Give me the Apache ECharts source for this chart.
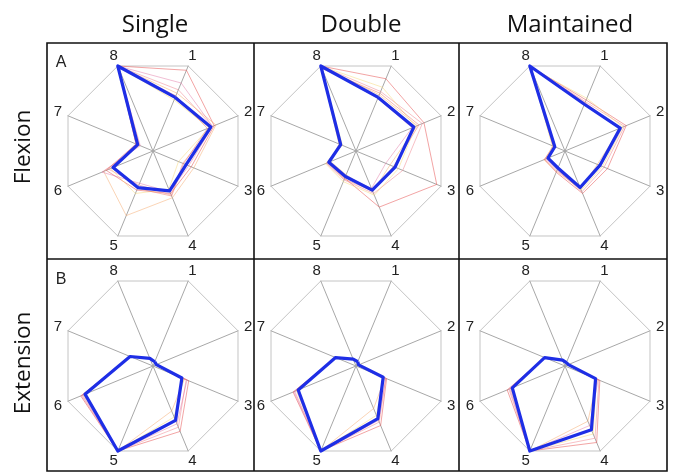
<!DOCTYPE html>
<html>
<head>
<meta charset="utf-8">
<script src="https://cdn.jsdelivr.net/npm/echarts@6/dist/echarts.min.js"></script>
<style>
  html, body { margin: 0; padding: 0; background: #fff; }
  #chart { width: 675px; height: 474px; }
</style>
</head>
<body>
<div id="chart"></div>
<script>
// Direction labels, listed clockwise from the upper right
const axisLabels = ['1', '2', '3', '4', '5', '6', '7', '8'];
const columnTitles = ['Single', 'Double', 'Maintained'];
const rowTitles = ['Flexion', 'Extension'];
const panelLetters = ['A', 'B'];

// Normalised tuning values per direction (order 1..8): mean curve and individual trials
const flexSingleMean = [0.63, 0.68, 0.39, 0.47, 0.43, 0.47, 0.18, 1.0];
const flexSingleTrials = [
  [0.95, 0.72, 0.45, 0.50, 0.46, 0.55, 0.20, 1.0],
  [0.72, 0.70, 0.35, 0.52, 0.40, 0.52, 0.17, 1.0],
  [0.68, 0.74, 0.48, 0.55, 0.76, 0.58, 0.16, 1.0],
  [0.60, 0.66, 0.30, 0.45, 0.50, 0.50, 0.19, 1.0],
  [0.80, 0.70, 0.42, 0.48, 0.38, 0.60, 0.15, 1.0],
  [0.65, 0.64, 0.36, 0.53, 0.44, 0.48, 0.20, 0.98]
];
const flexDoubleMean = [0.63, 0.68, 0.46, 0.46, 0.30, 0.32, 0.18, 1.0];
const flexDoubleTrials = [
  [0.85, 0.80, 0.95, 0.66, 0.32, 0.33, 0.18, 1.0],
  [0.70, 0.78, 0.55, 0.50, 0.34, 0.35, 0.17, 1.0],
  [0.66, 0.72, 0.40, 0.48, 0.28, 0.30, 0.20, 1.0],
  [0.75, 0.70, 0.50, 0.52, 0.36, 0.36, 0.16, 1.0],
  [0.62, 0.66, 0.35, 0.44, 0.30, 0.31, 0.19, 1.0],
  [0.68, 0.74, 0.44, 0.47, 0.33, 0.34, 0.18, 0.97]
];
const flexMaintMean = [0.55, 0.65, 0.41, 0.43, 0.20, 0.20, 0.12, 1.0];
const flexMaintTrials = [
  [0.60, 0.72, 0.50, 0.50, 0.25, 0.24, 0.14, 1.0],
  [0.58, 0.70, 0.46, 0.48, 0.22, 0.22, 0.13, 1.0],
  [0.56, 0.66, 0.38, 0.45, 0.24, 0.25, 0.12, 1.0],
  [0.62, 0.68, 0.44, 0.46, 0.20, 0.21, 0.15, 0.98],
  [0.57, 0.64, 0.42, 0.44, 0.23, 0.23, 0.11, 1.0]
];
const extSingleMean = [0.05, 0.04, 0.34, 0.64, 1.0, 0.80, 0.27, 0.09];
const extSingleTrials = [
  [0.05, 0.04, 0.42, 0.77, 1.0, 0.85, 0.27, 0.09],
  [0.05, 0.04, 0.39, 0.72, 1.0, 0.84, 0.26, 0.09],
  [0.05, 0.04, 0.37, 0.53, 1.0, 0.82, 0.27, 0.09],
  [0.05, 0.04, 0.36, 0.60, 1.0, 0.80, 0.28, 0.09],
  [0.05, 0.04, 0.40, 0.68, 1.0, 0.83, 0.27, 0.09]
];
const extDoubleMean = [0.05, 0.03, 0.32, 0.62, 1.0, 0.68, 0.24, 0.08];
const extDoubleTrials = [
  [0.05, 0.03, 0.36, 0.70, 1.0, 0.74, 0.24, 0.08],
  [0.05, 0.03, 0.35, 0.66, 1.0, 0.72, 0.24, 0.08],
  [0.05, 0.03, 0.34, 0.50, 1.0, 0.70, 0.24, 0.08],
  [0.05, 0.03, 0.33, 0.58, 1.0, 0.69, 0.24, 0.08],
  [0.05, 0.03, 0.35, 0.64, 1.0, 0.73, 0.24, 0.08]
];
const extMaintMean = [0.04, 0.04, 0.36, 0.75, 1.0, 0.62, 0.24, 0.07];
const extMaintTrials = [
  [0.04, 0.04, 0.41, 0.90, 1.0, 0.68, 0.24, 0.07],
  [0.04, 0.04, 0.40, 0.85, 1.0, 0.66, 0.24, 0.07],
  [0.04, 0.04, 0.38, 0.65, 1.0, 0.64, 0.24, 0.07],
  [0.04, 0.04, 0.37, 0.80, 1.0, 0.63, 0.24, 0.07],
  [0.04, 0.04, 0.39, 0.70, 1.0, 0.65, 0.24, 0.07]
];

const panels = [
  { mean: flexSingleMean, trials: flexSingleTrials },
  { mean: flexDoubleMean, trials: flexDoubleTrials },
  { mean: flexMaintMean, trials: flexMaintTrials },
  { mean: extSingleMean, trials: extSingleTrials },
  { mean: extDoubleMean, trials: extDoubleTrials },
  { mean: extMaintMean, trials: extMaintTrials }
];

// Frame layout
const frameLeft = 47, frameTop = 43, frameRight = 667, frameBottom = 471;
const colEdges = [47, 254, 459, 667];
const rowEdges = [43, 259, 471];
const radarCentersX = [153, 356, 565];
const radarCentersY = [151, 366];
const radarRadius = 92;

const trialColors = [
  'rgba(232, 90, 90, 0.55)',
  'rgba(240, 140, 150, 0.55)',
  'rgba(245, 170, 110, 0.5)',
  'rgba(248, 215, 120, 0.5)',
  'rgba(225, 110, 160, 0.45)',
  'rgba(238, 120, 100, 0.5)'
];

// The radar lays indicators out counter-clockwise, so feed directions 1,8,7,...,2
const ccwOrder = [0, 7, 6, 5, 4, 3, 2, 1];
const reorder = arr => ccwOrder.map(i => arr[i]);

const radars = [];
const series = [];
panels.forEach((p, k) => {
  const col = k % 3, row = Math.floor(k / 3);
  radars.push({
    center: [radarCentersX[col], radarCentersY[row]],
    radius: radarRadius,
    startAngle: 67.5,
    shape: 'polygon',
    splitNumber: 1,
    nameGap: 11,
    indicator: reorder(axisLabels).map(n => ({ name: n, min: 0, max: 1 })),
    axisName: {
      color: '#222',
      fontSize: 15,
      fontFamily: 'Liberation Sans, Arial, sans-serif',
      align: 'center',
      verticalAlign: 'middle'
    },
    axisLine: { lineStyle: { color: '#a8a8a8', width: 1 } },
    splitLine: { lineStyle: { color: '#c4c4c4', width: 1 } },
    splitArea: { show: false },
    axisTick: { show: false },
    axisLabel: { show: false }
  });
  const data = p.trials.map((t, j) => ({
    value: reorder(t),
    lineStyle: { color: trialColors[j % trialColors.length], width: 1 }
  }));
  data.push({
    value: reorder(p.mean),
    lineStyle: { color: '#1e2ee6', width: 3.2 }
  });
  series.push({
    type: 'radar',
    radarIndex: k,
    symbol: 'none',
    silent: true,
    animation: false,
    data: data
  });
});

const graphics = [];
// Outer frame and panel dividers
graphics.push({
  type: 'rect',
  shape: { x: frameLeft, y: frameTop, width: frameRight - frameLeft, height: frameBottom - frameTop },
  style: { fill: null, stroke: '#111', lineWidth: 1.6 },
  z: 10
});
[colEdges[1], colEdges[2]].forEach(x => graphics.push({
  type: 'line',
  shape: { x1: x, y1: frameTop, x2: x, y2: frameBottom },
  style: { stroke: '#111', lineWidth: 1.6 },
  z: 10
}));
graphics.push({
  type: 'line',
  shape: { x1: frameLeft, y1: rowEdges[1], x2: frameRight, y2: rowEdges[1] },
  style: { stroke: '#111', lineWidth: 1.6 },
  z: 10
});
// Column titles
const titleX = [155, 361, 570];
columnTitles.forEach((t, i) => graphics.push({
  type: 'text',
  x: titleX[i], y: 25,
  style: {
    text: t, fill: '#111', fontSize: 24,
    fontFamily: 'Open Sans, sans-serif',
    align: 'center', verticalAlign: 'middle'
  }
}));
// Row titles, rotated
const rowTitleY = [147, 363];
rowTitles.forEach((t, i) => graphics.push({
  type: 'text',
  x: 24, y: rowTitleY[i],
  rotation: Math.PI / 2,
  style: {
    text: t, fill: '#111', fontSize: 22.5,
    fontFamily: 'Open Sans, sans-serif',
    align: 'center', verticalAlign: 'middle'
  }
}));
// Panel letters
const letterY = [63, 280];
panelLetters.forEach((t, i) => graphics.push({
  type: 'text',
  x: 61, y: letterY[i],
  style: {
    text: t, fill: '#222', fontSize: 16,
    fontFamily: 'Liberation Sans, Arial, sans-serif',
    align: 'center', verticalAlign: 'middle'
  }
}));

const chart = echarts.init(document.getElementById('chart'), null, { renderer: 'canvas' });
chart.setOption({
  backgroundColor: '#fff',
  animation: false,
  radar: radars,
  series: series,
  graphic: graphics
});
</script>
</body>
</html>
